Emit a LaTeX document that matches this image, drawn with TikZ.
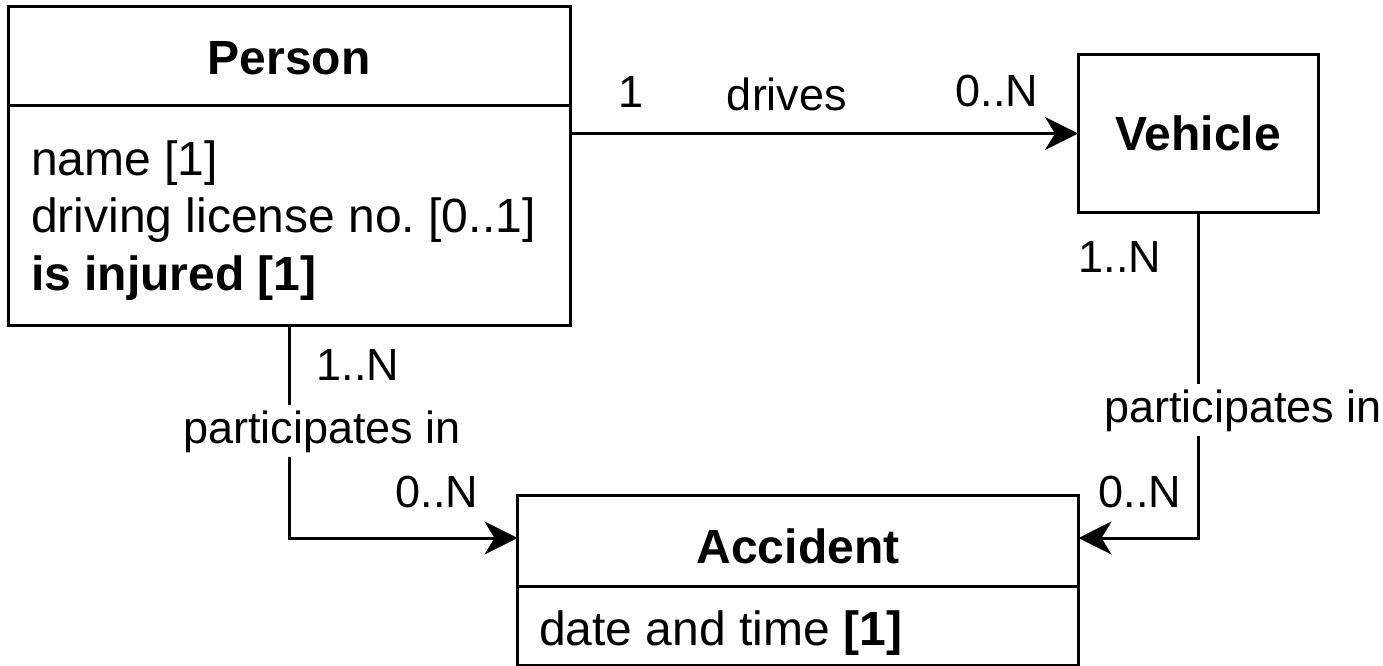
\documentclass[tikz,border=0pt]{standalone}
\usepackage{fontspec}
\setmainfont{Liberation Sans}
\usetikzlibrary{arrows.meta}
\frenchspacing
\begin{document}
\begin{tikzpicture}[x=1pt,y=-1pt,
  box/.style={draw, line width=3pt, inner sep=0pt, outer sep=0pt, rectangle},
  conn/.style={line width=3pt},
  arr/.style={conn, -{Stealth[length=33pt,width=33pt,inset=10pt]}},
  big/.style={font=\fontsize{48}{57}\selectfont, inner sep=0pt},
  lbl/.style={font=\fontsize{45}{54}\selectfont, inner sep=0pt, anchor=base},
  gap/.style={fill=white, inner xsep=0pt, inner ysep=5pt},
]
\useasboundingbox (0,0) rectangle (1383,666);
% boxes
\node[box, minimum width=562pt, minimum height=318pt] (Person) at (289,166) {};
\node[box, minimum width=240pt, minimum height=157pt] (Vehicle) at (1198,133.5) {};
\node[box, minimum width=561pt, minimum height=170pt] (Accident) at (798,580) {};
\draw[conn] (Person.west |- 0,106) -- (Person.east |- 0,106);
\draw[conn] (Accident.west |- 0,586) -- (Accident.east |- 0,586);
% box texts
\node[big, anchor=base, font=\fontsize{48}{57}\selectfont\bfseries] (ptitle) at (289,75) {Person};
\node[big, anchor=base west] (pa1) at (31,175) {name [1]};
\node[big, anchor=base west] (pa2) at (31,232) {driving license no.\ [0..1]};
\node[big, anchor=base west, font=\fontsize{48}{57}\selectfont\bfseries] (pa3) at (31,290) {is injured [1]};
\node[big, anchor=base, font=\fontsize{48}{57}\selectfont\bfseries] (vtitle) at (1198,150) {Vehicle};
\node[big, anchor=base, font=\fontsize{48}{57}\selectfont\bfseries] (atitle) at (798,563) {Accident};
\node[big, anchor=base west] (aa1) at (539,645) {date and time \textbf{[1]}};
% connector anchors
\coordinate (AccL) at (Accident.west |- 0,538);
\coordinate (AccR) at (Accident.east |- 0,538);
% connectors
\draw[arr] (Person.east |- Vehicle.west) -- (Vehicle.west);
\draw[arr] (Person.south) |- (AccL);
\draw[arr] (Vehicle.south) |- (AccR);
% labels
\node[lbl] (d1) at (631,108) {1};
\node[lbl] (d2) at (787,111) {drives};
\node[lbl] (d3) at (997,107) {0..N};
\node[lbl] (l1) at (358,380) {1..N};
\node[lbl, gap] (l2) at (322,443) {participates in};
\node[lbl] (l3) at (437,507) {0..N};
\node[lbl] (r1) at (1120,272) {1..N};
\node[lbl, gap] (r2) at (1243,422) {participates in};
\node[lbl] (r3) at (1140,507) {0..N};
\end{tikzpicture}
\end{document}
